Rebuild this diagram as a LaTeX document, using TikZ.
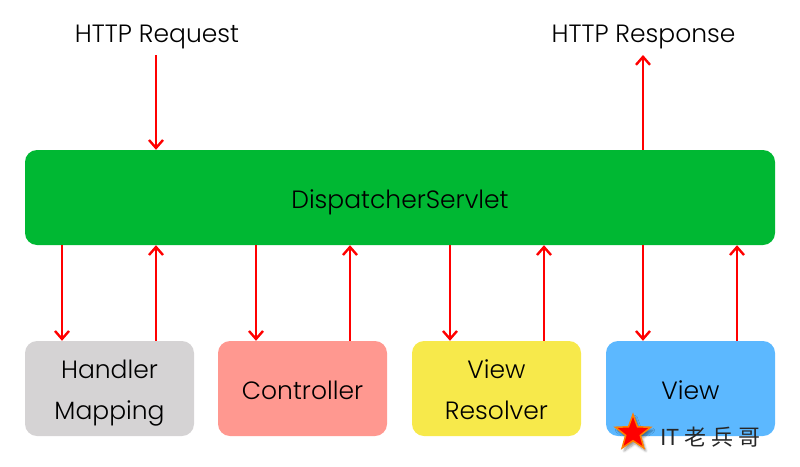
\documentclass[tikz,border=0pt]{standalone}
\usepackage{fontspec}
\setmainfont{Poppins Light}
\newfontfamily\cjkfont{Noto Sans CJK SC}
\usepackage{tikz}
\usetikzlibrary{arrows.meta,positioning,shapes.geometric,shadows.blur}

\definecolor{dispgreen}{HTML}{00B833}
\definecolor{handlergray}{HTML}{D5D3D4}
\definecolor{ctrlred}{HTML}{FF9890}
\definecolor{resolveryellow}{HTML}{F7E94B}
\definecolor{viewblue}{HTML}{5CB8FF}

\tikzset{
  block/.style={rounded corners=12pt,inner sep=0pt,minimum width=169pt,minimum height=95pt,
    align=center,text height=27pt,text depth=6pt,font=\fontsize{25}{41}\selectfont},
  twoline/.style={text height=68pt},
  flow/.style={-{Straight Barb[length=8pt,width=14pt]},red,line width=2.4pt},
  title/.style={font=\fontsize{25}{30}\selectfont}
}

\begin{document}
\begin{tikzpicture}[x=1pt,y=-1pt]
  \useasboundingbox (0,0) rectangle (800,466);

  % Servlet
  \node[block,fill=dispgreen,minimum width=750pt] (disp) at (400,197.5) {DispatcherServlet};

  % Bokse
  \node[block,twoline,fill=handlergray] (hm) at (109.5,388.5) {Handler\\Mapping};
  \node[block,fill=ctrlred] (ctrl) at (302.5,388.5) {Controller};
  \node[block,twoline,fill=resolveryellow] (res) at (496.5,388.5) {View\\Resolver};
  \node[block,fill=viewblue] (view) at (690.5,388.5) {View};

  % Titler
  \node[title] (req) at (157,37) {HTTP Request};
  \node[title] (resp) at (643.5,37) {HTTP Response};

  % Frie ender
  \coordinate (reqend) at (156,55);
  \coordinate (respend) at (643,55);

  % Pile
  \draw[flow] (reqend) -- (disp.north -| reqend);
  \draw[flow] (disp.north -| respend) -- (respend);
  \foreach \bname/\dnx/\upx in {hm/62/156,ctrl/256/350,res/450/544,view/643/737}{
    \coordinate (d\bname) at (\dnx,300);
    \coordinate (u\bname) at (\upx,300);
    \draw[flow] (disp.south -| d\bname) -- (\bname.north -| d\bname);
    \draw[flow] (\bname.north -| u\bname) -- (disp.south -| u\bname);
  }

  % Stempel
  \node[star,star points=5,star point ratio=2.4,minimum size=37pt,inner sep=0pt,fill=red,draw=orange,
    line width=1.5pt,blur shadow={shadow xshift=2pt,shadow yshift=-3pt,shadow blur steps=6}] (mark) at (633,433) {};
  \node[right=12pt of mark,yshift=-4pt,font=\fontsize{22}{26}\selectfont\cjkfont,text=black!85] (stamp) {IT 老 兵 哥};
\end{tikzpicture}
\end{document}
